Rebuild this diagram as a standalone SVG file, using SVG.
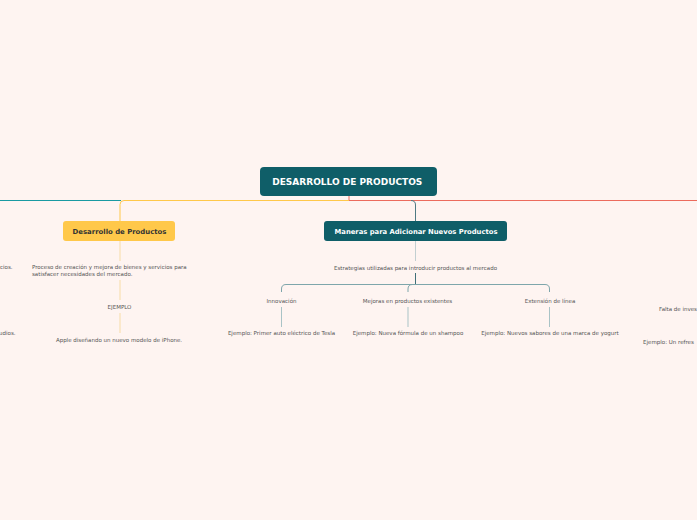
<svg xmlns="http://www.w3.org/2000/svg" width="697" height="520" viewBox="0 0 697 520">
<style>
.bg{fill:#fef4f1}
.t{font-family:"DejaVu Sans",Verdana,sans-serif;font-size:5.5px;fill:#555}
.b{font-family:"DejaVu Sans",Verdana,sans-serif;font-weight:bold}
.c{fill:none;stroke-width:1}
</style>
<rect class="bg" x="0" y="0" width="697" height="520"/>
<g id="connectors">
<path class="c" stroke="#1a9aa2" d="M0 200.5H121"/>
<path class="c" stroke="#ec6b5d" d="M349 196V200.5H697"/>
<path class="c" stroke="#ffc84a" d="M349 200.5H124Q120 200.5 120 204.5V221"/>
<path class="c" stroke="#4e7a83" d="M411 200.5Q415.5 200.5 415.5 205V221"/>
<path class="c" stroke="#f7dca6" d="M120 241V261M120 280V300M120 313V333"/>
<path class="c" stroke="#c2cfd1" d="M415.5 241V261"/>
<path class="c" stroke="#3f6f78" d="M415.5 273V284.5"/>
<path class="c" stroke="#7ea6ab" d="M286 284.5H545Q549.5 284.5 549.5 289V292M286 284.5Q281.5 284.5 281.5 289V292M412.5 284.5Q408 284.5 408 289V292"/>
<path class="c" stroke="#a9c3c6" d="M281.5 307V327M408 307V327M549.5 307V327"/>
</g>
<g id="root">
<rect x="260" y="167" width="177" height="29" rx="4" fill="#0f5e68"/>
<text class="b" x="347.3" y="185.3" font-size="9" fill="#fff" text-anchor="middle">DESARROLLO DE PRODUCTOS</text>
</g>
<g id="desarrollo">
<rect x="63" y="221" width="112" height="20" rx="3" fill="#ffc84a"/>
<text class="b" x="119.5" y="233.6" font-size="6.9" fill="#333" text-anchor="middle">Desarrollo de Productos</text>
</g>
<g id="proceso">
<text class="t" x="32" y="269">Proceso de creación y mejora de bienes y servicios para</text>
<text class="t" x="32" y="276">satisfacer necesidades del mercado.</text>
</g>
<g id="ejemplo"><text class="t" x="119.5" y="308.5" text-anchor="middle">EJEMPLO</text></g>
<g id="apple"><text class="t" x="119" y="341.5" text-anchor="middle">Apple diseñando un nuevo modelo de iPhone.</text></g>
<g id="left-cut1"><text class="t" x="12.5" y="269" text-anchor="end">cios.</text></g>
<g id="left-cut2"><text class="t" x="15.5" y="334.5" text-anchor="end">udios.</text></g>
<g id="maneras">
<rect x="324" y="221" width="183" height="20" rx="3" fill="#0f5e68"/>
<text class="b" x="416" y="233.6" font-size="6.8" fill="#fff" text-anchor="middle">Maneras para Adicionar Nuevos Productos</text>
</g>
<g id="estrategias"><text class="t" x="415.5" y="269.5" text-anchor="middle">Estrategias utilizadas para introducir productos al mercado</text></g>
<g id="innovacion"><text class="t" x="281.5" y="302.5" text-anchor="middle">Innovación</text></g>
<g id="mejoras"><text class="t" x="407.5" y="302.5" text-anchor="middle">Mejoras en productos existentes</text></g>
<g id="extension"><text class="t" x="550" y="302.5" text-anchor="middle">Extensión de línea</text></g>
<g id="ej-tesla"><text class="t" x="281.5" y="334.5" text-anchor="middle">Ejemplo: Primer auto eléctrico de Tesla</text></g>
<g id="ej-shampoo"><text class="t" x="408" y="334.5" text-anchor="middle">Ejemplo: Nueva fórmula de un shampoo</text></g>
<g id="ej-yogurt"><text class="t" x="550" y="334.5" text-anchor="middle">Ejemplo: Nuevos sabores de una marca de yogurt</text></g>
<g id="right-cut1"><text class="t" x="659" y="310.5">Falta de inves</text></g>
<g id="right-cut2"><text class="t" x="643" y="343.5">Ejemplo: Un refres</text></g>
</svg>
